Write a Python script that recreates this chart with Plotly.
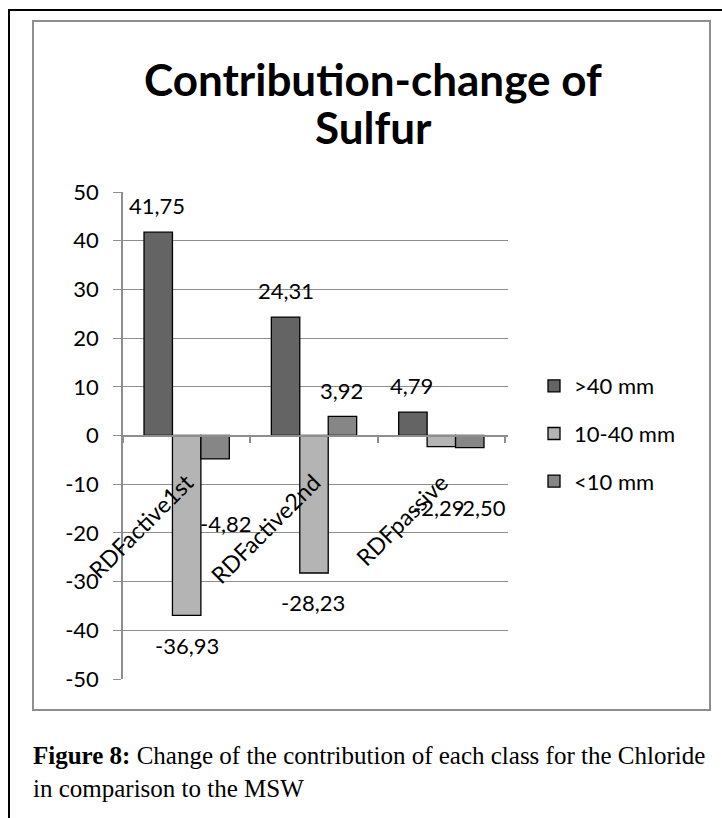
import plotly.graph_objects as go

categories = ["RDFactive1st", "RDFactive2nd", "RDFpassive"]
series_names = [">40 mm", "10-40 mm", "<10 mm"]
vals_gt40 = [41.75, 24.31, 4.79]
vals_10_40 = [-36.93, -28.23, -2.29]
vals_lt10 = [-4.82, 3.92, -2.50]
ytick_vals = [-50, -40, -30, -20, -10, 0, 10, 20, 30, 40, 50]
ytick_text = ["-50", "-40", "-30", "-20", "-10", "0", "10", "20", "30", "40", "50"]
title_lines = ["Contribution-change of", "Sulfur"]

series_vals = [vals_gt40, vals_10_40, vals_lt10]
colors = ["#646464", "#b4b4b4", "#868686"]

W, H = 722, 818
L, R, T, B = 123, 214, 192, 139
PW = W - L - R
PH = H - T - B
BARGAP = 0.33

def px(x):
    return (x - L) / PW

def py(y):
    return (H - B - y) / PH

# label offsets (dx, dy in px, relative to bar centre / bar end)
label_off = [
    [(-1, -27), (1, -27), (-1, -27)],
    [(0, 30), (-1, 30), (-3, 61)],
    [(10, 65), (-1, -26), (10, 60)],
]

FONT = "Lato"
fig = go.Figure()
for name, vals, col in zip(series_names, series_vals, colors):
    fig.add_trace(go.Bar(
        x=categories, y=vals, name=name, legendgroup=name,
        marker=dict(color=col, line=dict(color="#000000", width=1.3)),
    ))

cat_px = PW / len(categories)
bar_px = cat_px * (1 - BARGAP) / len(series_vals)
annotations = []
for si, vals in enumerate(series_vals):
    for ci, v in enumerate(vals):
        dx, dy = label_off[si][ci]
        annotations.append(dict(
            x=categories[ci], y=v, xref="x", yref="y",
            text=f"{v:.2f}".replace(".", ","), showarrow=False,
            xanchor="center", yanchor="middle",
            xshift=(si - 1) * bar_px + dx, yshift=-dy,
            font=dict(family=FONT, size=22, color="#000000"),
        ))

for line, yc in zip(title_lines, [79, 127]):
    annotations.append(dict(
        x=px(373), y=py(yc), xref="paper", yref="paper",
        xanchor="center", yanchor="middle", showarrow=False,
        text=f"<b>{line}</b>",
        font=dict(family=FONT, size=44, color="#000000"),
    ))

annotations.append(dict(
    x=px(31), y=py(772), xref="paper", yref="paper",
    xanchor="left", yanchor="middle", align="left", showarrow=False,
    text="<b>Figure 8:</b> Change of the contribution of each class for the Chloride<br>in comparison to the MSW",
    font=dict(family="Liberation Serif", size=25, color="#000000"),
))

shapes = [
    dict(type="rect", xref="paper", yref="paper", x0=px(9), x1=px(740), y0=py(840), y1=py(10),
         line=dict(color="#000000", width=2), fillcolor="rgba(0,0,0,0)", layer="below"),
    dict(type="rect", xref="paper", yref="paper", x0=px(33), x1=px(710), y0=py(710), y1=py(21),
         line=dict(color="#8e8e8e", width=2), fillcolor="rgba(0,0,0,0)", layer="below"),
]

fig.update_layout(
    width=W, height=H,
    margin=dict(l=L, r=R, t=T, b=B, pad=0),
    paper_bgcolor="#ffffff", plot_bgcolor="#ffffff",
    barmode="group", bargap=BARGAP, bargroupgap=0,
    font=dict(family=FONT, size=22, color="#000000"),
    showlegend=True,
    legend=dict(x=px(534), y=py(387) + 0.045, xanchor="left", yanchor="top", xref="paper", yref="paper",
                font=dict(family=FONT, size=22, color="#000000"),
                tracegroupgap=16, traceorder="grouped", bgcolor="rgba(0,0,0,0)"),
    annotations=annotations,
    shapes=shapes,
    xaxis=dict(anchor="free", position=0.5, showline=True, linecolor="#8e8e8e", linewidth=1.5,
               ticks="outside", tickson="boundaries", ticklen=7, tickcolor="#8e8e8e", tickwidth=1.5,
               tickangle=-45, showgrid=False, zeroline=False, ticklabelstandoff=24,
               tickfont=dict(family=FONT, size=23, color="#000000")),
    yaxis=dict(range=[-50, 50], tickvals=ytick_vals, ticktext=ytick_text, showgrid=True,
               gridcolor="#8e8e8e", gridwidth=1.3, zeroline=False, showline=True, linecolor="#8e8e8e",
               linewidth=1.5, ticks="outside", ticklen=8, tickcolor="#8e8e8e", tickwidth=1.3,
               ticklabelstandoff=10, tickfont=dict(family=FONT, size=22, color="#000000")),
)

fig.write_html("out.html")
